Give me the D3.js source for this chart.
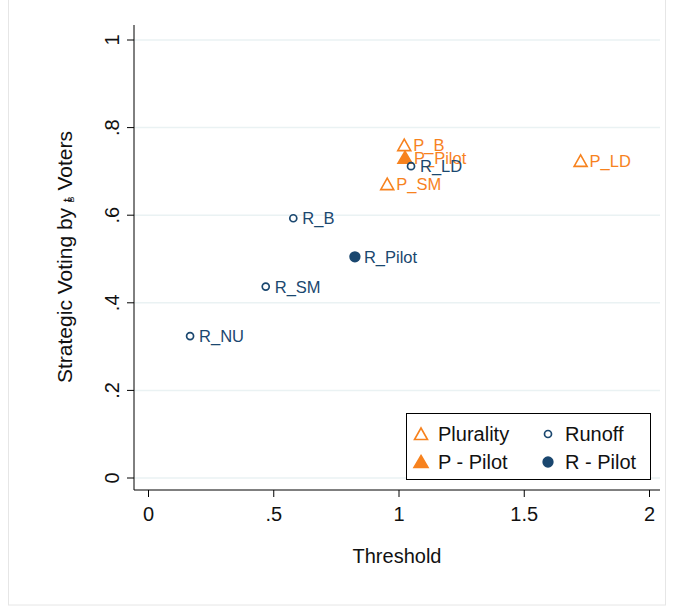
<!DOCTYPE html>
<html>
<head>
<meta charset="utf-8">
<script src="https://cdn.jsdelivr.net/npm/d3@7"></script>
<style>
  body { margin: 0; background: #fff; }
  text { font-family: "Liberation Sans", Arial, sans-serif; }
</style>
</head>
<body>
<script>
const width = 673;
const height = 613;

// data
const labels = ["P_B", "P_Pilot", "R_LD", "P_SM", "P_LD", "R_B", "R_Pilot", "R_SM", "R_NU"];
const thresholds = [1.023, 1.026, 1.05, 0.955, 1.727, 0.58, 0.826, 0.47, 0.168];
const strategic = [0.76, 0.731, 0.712, 0.671, 0.724, 0.593, 0.505, 0.437, 0.324];
const groups = ["Plurality", "P - Pilot", "Runoff", "Plurality", "Plurality", "Runoff", "R - Pilot", "Runoff", "Runoff"];
const xTicks = [0, 0.5, 1, 1.5, 2];
const yTicks = [0, 0.2, 0.4, 0.6, 0.8, 1];

const orange = "#f7821e";
const navy = "#1a476f";
const groupStyle = {
  "Plurality": { shape: "tri", fill: false, color: orange },
  "Runoff": { shape: "circ", fill: false, color: navy },
  "P - Pilot": { shape: "tri", fill: true, color: orange },
  "R - Pilot": { shape: "circ", fill: true, color: navy }
};

const data = labels.map((l, i) => ({ label: l, x: thresholds[i], y: strategic[i], group: groups[i] }));

let svg = d3.select("body").append("svg").attr("width", width).attr("height", height);

// outer frame
svg.append("rect").attr("x", 8.5).attr("y", -1).attr("width", 657).attr("height", 606)
  .attr("fill", "none").attr("stroke", "#e6e6e6");

const plot = { left: 134, right: 660, top: 25, bottom: 490 };

let xScale = d3.scaleLinear().domain([0, 2]).range([148, 649]);
let yScale = d3.scaleLinear().domain([0, 1]).range([478, 40]);

const fmt = (d) => (d === 0 ? "0" : String(d).replace(/^0/, ""));

// gridlines
svg.append("g").selectAll("line").data(yTicks).join("line")
  .attr("x1", plot.left).attr("x2", plot.right)
  .attr("y1", (d) => yScale(d)).attr("y2", (d) => yScale(d))
  .attr("stroke", "#eaf2f3").attr("stroke-width", 1.5);

// axes
let xAxis = svg.append("g").attr("transform", `translate(0, ${plot.bottom})`)
  .call(d3.axisBottom(xScale).tickValues(xTicks).tickFormat(fmt).tickSize(7).tickSizeOuter(0));
xAxis.select(".domain").remove();
xAxis.selectAll("text").attr("font-size", 20).attr("fill", "#111").attr("dy", "1.05em");

let yAxis = svg.append("g").attr("transform", `translate(${plot.left}, 0)`)
  .call(d3.axisLeft(yScale).tickValues(yTicks).tickFormat(fmt).tickSize(7).tickSizeOuter(0));
yAxis.select(".domain").remove();
yAxis.selectAll("text")
  .attr("font-size", 20).attr("fill", "#111")
  .attr("transform", (d) => `rotate(-90, -22, ${yScale(d)})`)
  .attr("x", -22).attr("y", (d) => yScale(d)).attr("dy", "0.35em")
  .attr("text-anchor", "middle");
yAxis.selectAll(".tick").attr("transform", null);
yAxis.selectAll(".tick line").attr("y1", (d) => yScale(d)).attr("y2", (d) => yScale(d));

svg.append("line").attr("x1", plot.left).attr("x2", plot.right)
  .attr("y1", plot.bottom).attr("y2", plot.bottom).attr("stroke", "#000");
svg.append("line").attr("x1", plot.left).attr("x2", plot.left)
  .attr("y1", plot.top).attr("y2", plot.bottom).attr("stroke", "#000");

// axis titles
svg.append("text").attr("x", 397).attr("y", 563).attr("text-anchor", "middle")
  .attr("font-size", 20).attr("fill", "#111").text("Threshold");

let yTitle = svg.append("text").attr("transform", "translate(72, 257) rotate(-90)")
  .attr("text-anchor", "middle").attr("font-size", 21).attr("fill", "#111");
yTitle.append("tspan").text("Strategic Voting by ");
yTitle.append("tspan").attr("font-size", 13).text("t");
yTitle.append("tspan").attr("font-size", 9).attr("dx", -4).attr("dy", 2).text("B");
yTitle.append("tspan").attr("dy", -2).text(" Voters");

function marker(sel, style) {
  if (style.shape === "tri") {
    sel.append("path")
      .attr("d", style.fill ? "M0,-6.5 L7,5.5 L-7,5.5 Z" : "M0,-6 L6.5,5.5 L-6.5,5.5 Z")
      .attr("fill", style.fill ? style.color : "none")
      .attr("stroke", style.color).attr("stroke-width", 1.6);
  } else {
    sel.append("circle").attr("r", style.fill ? 4.8 : 3.5)
      .attr("fill", style.fill ? style.color : "none")
      .attr("stroke", style.color).attr("stroke-width", 1.7);
  }
}

// points
let pts = svg.append("g").selectAll("g").data(data).join("g")
  .attr("transform", (d) => `translate(${xScale(d.x)}, ${yScale(d.y)})`);
pts.each(function (d) { marker(d3.select(this), groupStyle[d.group]); });
pts.append("text").attr("x", 9).attr("y", 6).attr("font-size", 16.5)
  .attr("fill", (d) => groupStyle[d.group].color).text((d) => d.label);

// legend
let legend = svg.append("g");
legend.append("rect").attr("x", 406.5).attr("y", 413.5).attr("width", 244).attr("height", 66)
  .attr("fill", "#fff").attr("stroke", "#000");
const legendItems = [
  { g: "Plurality", x: 421, y: 434 },
  { g: "Runoff", x: 548, y: 434 },
  { g: "P - Pilot", x: 421, y: 462 },
  { g: "R - Pilot", x: 548, y: 462 }
];
legendItems.forEach((it) => {
  let g = legend.append("g").attr("transform", `translate(${it.x}, ${it.y})`);
  marker(g, groupStyle[it.g]);
  g.append("text").attr("x", 17).attr("y", 7).attr("font-size", 20).attr("fill", "#111").text(it.g);
});
</script>
</body>
</html>
